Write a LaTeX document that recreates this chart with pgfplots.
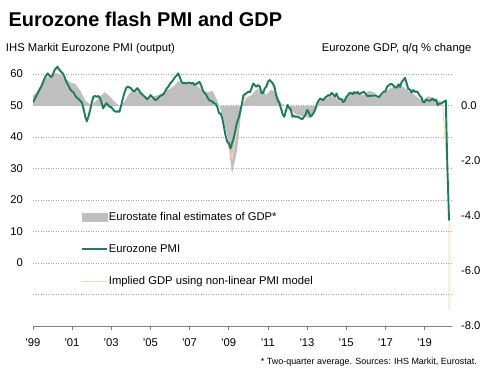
\documentclass[border=0pt]{standalone}
\usepackage{pgfplots}
\pgfplotsset{compat=1.18}
\usepackage{fontspec}
\setmainfont{Liberation Sans}
\definecolor{pmigreen}{RGB}{32,122,98}
\definecolor{gdpgray}{RGB}{191,191,191}
\definecolor{implied}{RGB}{243,218,180}
\definecolor{gridgray}{RGB}{165,165,165}
\definecolor{axisgray}{RGB}{128,128,128}
\newcommand{\tf}{\fontsize{11.3}{13}\selectfont}
\begin{document}
\begin{tikzpicture}
\path[use as bounding box] (0,0) rectangle (499bp,-374bp);
\pgfplotsset{
  base/.style={at={(33bp,-326bp)}, anchor=south west, scale only axis,
    width=419bp, height=267.75bp, xmin=1999, xmax=2020.4,
    /pgf/number format/assume math mode=true},
}
% ---------- grid and x axis ----------
\begin{axis}[base, ymin=-20, ymax=65,
  axis x line*=bottom, axis y line*=left,
  y axis line style={draw=none},
  x axis line style={axisgray, line width=0.9bp},
  xtick={1999,2001,...,2019},
  xticklabels={\textquotesingle99,\textquotesingle01,\textquotesingle03,\textquotesingle05,\textquotesingle07,\textquotesingle09,\textquotesingle11,\textquotesingle13,\textquotesingle15,\textquotesingle17,\textquotesingle19},
  xticklabel style={font=\tf, text=black, yshift=-6bp},
  xtick align=outside,
  xtick style={axisgray, line width=0.8bp},
  major tick length=3.5bp,
  ytick={-10,0,10,20,30,40,50,60},
  yticklabels={,0,10,20,30,40,50,60},
  ytick style={draw=none},
  yticklabel style={font=\tf, xshift=-6.5bp},
  ymajorgrids, grid style={gridgray, line width=0.6bp, dash pattern=on 1.2bp off 1.3bp},
]
\end{axis}
% ---------- GDP (right axis) ----------
\begin{axis}[base, ymin=-8, ymax=1.736,
  hide x axis, axis y line*=right,
  y axis line style={draw=none},
  ytick={-8,-6,-4,-2,0},
  yticklabels={-8.0,-6.0,-4.0,-2.0,0.0},
  ytick style={draw=none},
  yticklabel style={font=\tf, xshift=5.5bp},
]
% two-quarter average GDP, quarterly from 1998 Q4
\addplot[fill=gdpgray, draw=none] table[header=false, x expr={1998.9167+\coordindex/4}, y index=0] {
0.30
0.50
0.75
1.00
1.15
1.20
1.15
1.00
0.85
0.80
0.55
0.20
0.05
0.15
0.35
0.50
0.35
0.15
0.00
0.15
0.45
0.60
0.60
0.40
0.30
0.35
0.40
0.50
0.60
0.70
0.90
0.85
0.85
0.85
0.70
0.55
0.50
0.55
0.20
-0.30
-1.05
-2.45
-1.65
0.00
0.30
0.40
0.60
0.60
0.40
0.60
0.50
0.10
0.00
-0.15
-0.30
-0.35
-0.40
-0.45
-0.10
0.30
0.25
0.35
0.30
0.20
0.30
0.50
0.55
0.40
0.40
0.55
0.50
0.30
0.45
0.60
0.70
0.75
0.70
0.55
0.45
0.30
0.20
0.35
0.30
0.20
0.15
} \closedcycle;
% implied GDP, quarterly from 1999 Q1
\addplot[implied, line width=1bp] table[header=false, x expr={1999.1667+\coordindex/4}, y index=0] {
0.34
0.69
1.09
1.03
1.35
1.23
0.91
0.57
0.34
0.17
-0.40
-0.17
0.34
0.29
0.00
-0.05
-0.21
-0.23
0.46
0.66
0.50
0.55
0.34
0.29
0.25
0.29
0.40
0.69
0.94
1.17
0.80
0.83
0.82
0.82
0.56
0.29
0.14
-0.06
-0.46
-1.31
-1.90
-0.80
0.06
0.46
0.63
0.69
0.46
0.69
0.87
0.38
-0.10
-0.19
-0.15
-0.41
-0.47
-0.34
-0.40
-0.15
0.25
0.29
0.35
0.32
0.23
0.16
0.46
0.48
0.41
0.49
0.35
0.35
0.30
0.50
0.73
0.72
0.77
0.93
0.59
0.56
0.47
0.13
0.18
0.25
0.01
0.10
-2.40
};
\addplot[implied, line width=1bp] coordinates {(2020.1667,-2.40) (2020.25,-4.20) (2020.25,-7.40)};
\end{axis}
% ---------- PMI (left axis) ----------
\begin{axis}[base, ymin=-20, ymax=65, hide axis,
  legend cell align=left,
  legend style={at={(0.1150,0.4300)}, anchor=north west, draw=none, fill=none,
    inner sep=0pt, row sep=19.8bp, font=\tf,
    nodes={inner sep=0.8bp, text height=8.2bp, text depth=2.4bp}},
]
\addlegendimage{legend image code/.code={\fill[gdpgray] (0bp,-3.6bp) rectangle (24.5bp,3.6bp);}}
\addlegendentry{Eurostate final estimates of GDP*}
\addplot[pmigreen, line width=1.9bp, line join=round,
  legend image code/.code={\draw[pmigreen, line width=2.2bp] (0bp,0bp) -- (24.5bp,0bp);}]
  table[header=false, x expr={1999+\coordindex/12}, y index=0] {
51.0
52.0
53.0
54.0
55.0
56.0
57.2
58.5
59.5
60.2
59.6
59.0
59.5
61.0
61.8
62.3
61.5
60.8
60.4
59.5
58.0
57.0
56.0
55.0
54.5
54.0
53.0
52.4
52.0
51.5
50.8
49.0
46.5
45.0
46.5
48.5
51.0
52.8
53.0
52.8
53.0
52.5
51.0
49.1
50.0
50.7
50.2
49.6
49.5
48.8
48.2
48.0
48.2
48.0
50.0
52.0
54.0
55.5
56.0
55.8
55.5
54.8
54.4
55.0
55.5
54.8
54.0
53.5
53.0
52.5
52.0
52.5
53.3
52.8
52.2
51.7
52.0
52.5
53.0
53.3
53.5
54.5
55.5
56.0
57.0
57.5
58.2
59.0
59.5
60.2
59.0
57.5
57.0
57.2
57.0
57.3
57.2
57.0
57.2
56.5
56.8
57.2
57.5
56.5
54.9
54.0
53.5
52.5
51.7
51.5
51.2
50.7
50.5
49.5
47.5
47.5
46.0
43.3
40.5
38.5
38.0
36.4
38.0
39.6
42.0
44.5
46.0
48.0
50.5
53.3
53.6
54.0
54.4
54.2
55.5
57.0
56.4
56.0
56.5
56.0
54.0
53.9
55.4
56.0
57.5
58.1
57.6
57.0
56.0
53.3
51.7
50.7
49.1
47.2
46.4
48.3
50.2
49.3
48.7
46.4
46.7
46.4
46.5
46.3
45.9
45.6
46.3
47.0
48.6
47.9
46.5
46.9
47.7
48.7
50.5
51.5
52.2
51.9
51.7
52.5
52.9
53.3
53.1
54.0
53.5
52.8
53.8
52.5
52.0
52.1
51.1
51.4
52.6
53.3
54.0
53.9
53.6
54.2
53.9
54.3
53.6
53.9
54.2
54.3
53.6
53.0
53.1
53.0
53.1
53.1
53.2
52.9
52.6
53.3
53.9
54.4
54.4
56.0
56.4
56.8
56.8
56.3
55.7
55.7
56.7
55.9
57.5
58.1
58.8
57.1
55.2
55.1
54.1
54.9
54.3
54.5
54.1
53.1
52.7
51.1
51.0
51.9
51.6
51.5
51.8
52.2
51.5
51.9
50.1
50.6
50.6
50.9
51.3
51.6
29.7
13.5
};
\addlegendentry{Eurozone PMI}
\addlegendimage{legend image code/.code={\draw[implied, line width=1.2bp] (0bp,0bp) -- (24.5bp,0bp);}}
\addlegendentry{Implied GDP using non-linear PMI model}
\end{axis}
% ---------- texts ----------
\node[anchor=base west, inner sep=0pt, font=\fontsize{20}{24}\selectfont\bfseries] at (8.5bp,-26bp) {Eurozone flash PMI and GDP};
\node[anchor=base west, inner sep=0pt, font=\tf] at (5.8bp,-51.7bp) {IHS Markit Eurozone PMI (output)};
\node[anchor=base east, inner sep=0pt, font=\tf] at (471.5bp,-51.7bp) {Eurozone GDP, q/q \% change};
\node[anchor=base east, inner sep=0pt, font=\fontsize{9}{11}\selectfont] at (477bp,-364bp) {* Two-quarter average. Sources: IHS Markit, Eurostat.};
\end{tikzpicture}
\end{document}
